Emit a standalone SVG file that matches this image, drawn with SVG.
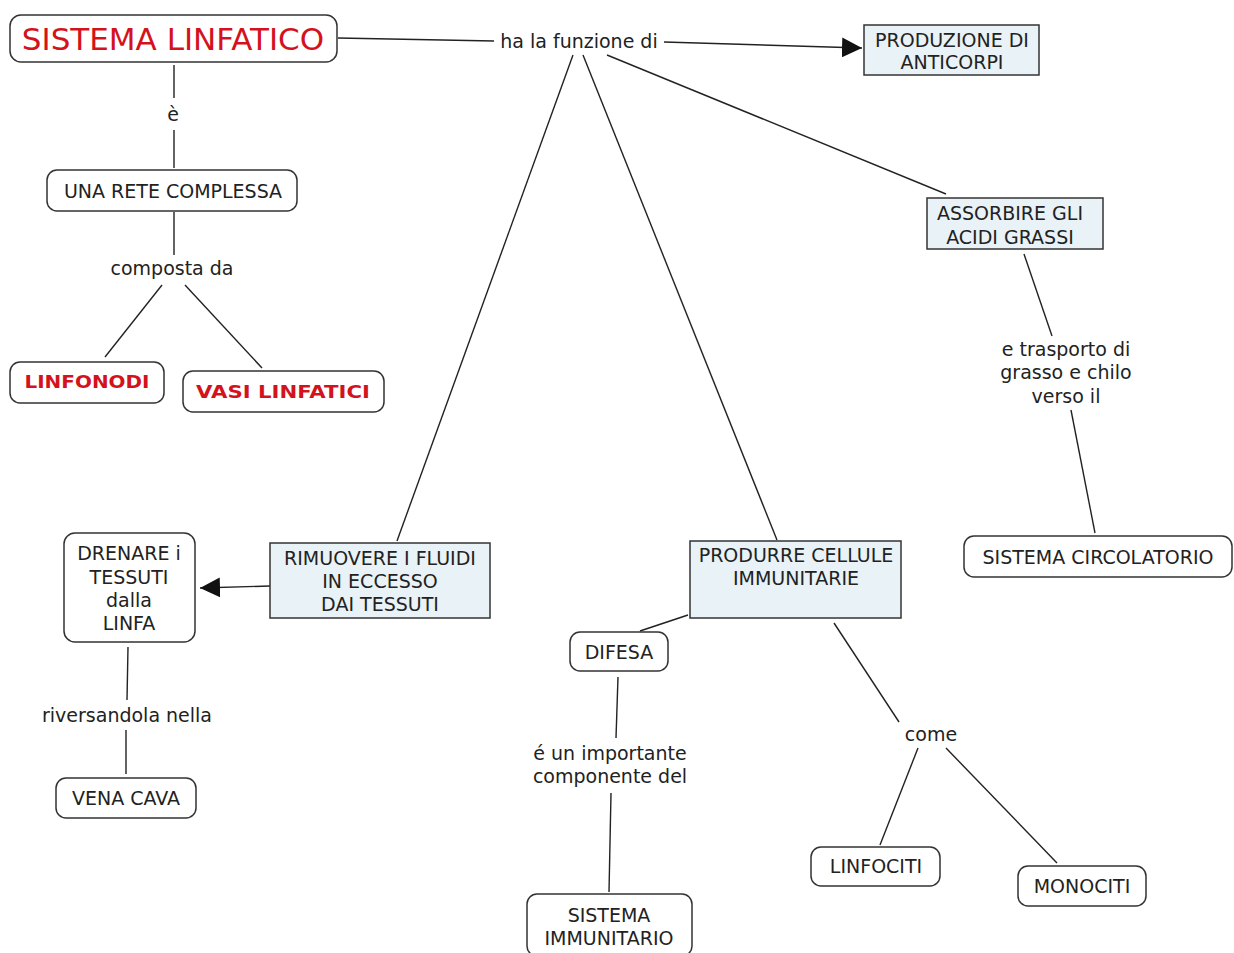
<svg xmlns="http://www.w3.org/2000/svg" width="1234" height="953" viewBox="0 0 1234 953">
<style>
text{font-family:"DejaVu Sans","Verdana",sans-serif;font-size:19px;fill:#222;text-anchor:middle;}
.r{fill:#fff;stroke:#333;stroke-width:1.5;}
.b{fill:#e9f2f6;stroke:#333;stroke-width:1.5;}
.c{stroke:#222;stroke-width:1.4;fill:none;}
.red{fill:#d4121c;}
.bold{font-weight:bold;font-size:17px;fill:#d4121c;}
</style>
<defs>
<marker id="ah" viewBox="0 0 10 10" refX="10" refY="5" markerWidth="20" markerHeight="20" markerUnits="userSpaceOnUse" orient="auto">
<path d="M0,0 L10,5 L0,10 z" fill="#111"/>
</marker>
</defs>
<rect width="1234" height="953" fill="#fff"/>
<g id="connectors">
<line class="c" x1="338" y1="38" x2="494" y2="41"/>
<line class="c" x1="664" y1="42" x2="862" y2="48" marker-end="url(#ah)"/>
<line class="c" x1="174" y1="65" x2="174" y2="98"/>
<line class="c" x1="174" y1="130" x2="174" y2="168"/>
<line class="c" x1="174" y1="212" x2="174" y2="255"/>
<line class="c" x1="162" y1="285" x2="105" y2="357"/>
<line class="c" x1="185" y1="285" x2="262" y2="368"/>
<line class="c" x1="573" y1="55" x2="397" y2="541"/>
<line class="c" x1="583" y1="55" x2="777" y2="540"/>
<line class="c" x1="607" y1="55" x2="946" y2="194"/>
<line class="c" x1="1024" y1="254" x2="1052" y2="336"/>
<line class="c" x1="1071" y1="410" x2="1095" y2="533"/>
<line class="c" x1="270" y1="586" x2="200" y2="588" marker-end="url(#ah)"/>
<line class="c" x1="128" y1="647" x2="127" y2="700"/>
<line class="c" x1="126" y1="730" x2="126" y2="774"/>
<line class="c" x1="688" y1="615" x2="640" y2="631"/>
<line class="c" x1="618" y1="677" x2="616" y2="738"/>
<line class="c" x1="611" y1="793" x2="609" y2="892"/>
<line class="c" x1="834" y1="623" x2="899" y2="722"/>
<line class="c" x1="918" y1="748" x2="880" y2="845"/>
<line class="c" x1="946" y1="748" x2="1057" y2="863"/>
</g>
<g id="sistema-linfatico">
<rect class="r" x="10" y="15" width="327" height="47" rx="11"/>
<text class="red" x="173" y="50" style="font-size:31px">SISTEMA LINFATICO</text>
</g>
<g id="lbl-funzione"><text x="579" y="48">ha la funzione di</text></g>
<g id="produzione-anticorpi">
<rect class="b" x="864" y="25" width="175" height="50"/>
<text x="952" y="47">PRODUZIONE DI</text>
<text x="952" y="69">ANTICORPI</text>
</g>
<g id="lbl-e"><text x="173" y="121">è</text></g>
<g id="rete-complessa">
<rect class="r" x="47" y="170" width="250" height="41" rx="10"/>
<text x="173" y="198">UNA RETE COMPLESSA</text>
</g>
<g id="lbl-composta"><text x="172" y="275">composta da</text></g>
<g id="linfonodi">
<rect class="r" x="10" y="362" width="154" height="41" rx="10"/>
<text class="bold" x="87" y="388" textLength="125" lengthAdjust="spacingAndGlyphs">LINFONODI</text>
</g>
<g id="vasi-linfatici">
<rect class="r" x="183" y="371" width="201" height="41" rx="10"/>
<text class="bold" x="283" y="398" textLength="174" lengthAdjust="spacingAndGlyphs">VASI LINFATICI</text>
</g>
<g id="assorbire">
<rect class="b" x="927" y="198" width="176" height="51"/>
<text x="1010" y="220">ASSORBIRE GLI</text>
<text x="1010" y="244">ACIDI GRASSI</text>
</g>
<g id="lbl-trasporto">
<text x="1066" y="356">e trasporto di</text>
<text x="1066" y="379">grasso e chilo</text>
<text x="1066" y="403">verso il</text>
</g>
<g id="sistema-circolatorio">
<rect class="r" x="964" y="536" width="268" height="41" rx="10"/>
<text x="1098" y="564">SISTEMA CIRCOLATORIO</text>
</g>
<g id="rimuovere">
<rect class="b" x="270" y="543" width="220" height="75"/>
<text x="380" y="565">RIMUOVERE I FLUIDI</text>
<text x="380" y="588">IN ECCESSO</text>
<text x="380" y="611">DAI TESSUTI</text>
</g>
<g id="drenare">
<rect class="r" x="64" y="533" width="131" height="109" rx="11"/>
<text x="129" y="560">DRENARE i</text>
<text x="129" y="584">TESSUTI</text>
<text x="129" y="607">dalla</text>
<text x="129" y="630">LINFA</text>
</g>
<g id="lbl-riversandola"><text x="127" y="722">riversandola nella</text></g>
<g id="vena-cava">
<rect class="r" x="56" y="778" width="140" height="40" rx="10"/>
<text x="126" y="805">VENA CAVA</text>
</g>
<g id="produrre">
<rect class="b" x="690" y="541" width="211" height="77"/>
<text x="796" y="562">PRODURRE CELLULE</text>
<text x="796" y="585">IMMUNITARIE</text>
</g>
<g id="difesa">
<rect class="r" x="570" y="632" width="98" height="39" rx="10"/>
<text x="619" y="659">DIFESA</text>
</g>
<g id="lbl-componente">
<text x="610" y="760">é un importante</text>
<text x="610" y="783">componente del</text>
</g>
<g id="sistema-immunitario">
<rect class="r" x="527" y="894" width="165" height="62" rx="10"/>
<text x="609" y="922">SISTEMA</text>
<text x="609" y="945">IMMUNITARIO</text>
</g>
<g id="lbl-come"><text x="931" y="741">come</text></g>
<g id="linfociti">
<rect class="r" x="811" y="847" width="129" height="39" rx="10"/>
<text x="876" y="873">LINFOCITI</text>
</g>
<g id="monociti">
<rect class="r" x="1018" y="866" width="128" height="40" rx="10"/>
<text x="1082" y="893">MONOCITI</text>
</g>
</svg>
